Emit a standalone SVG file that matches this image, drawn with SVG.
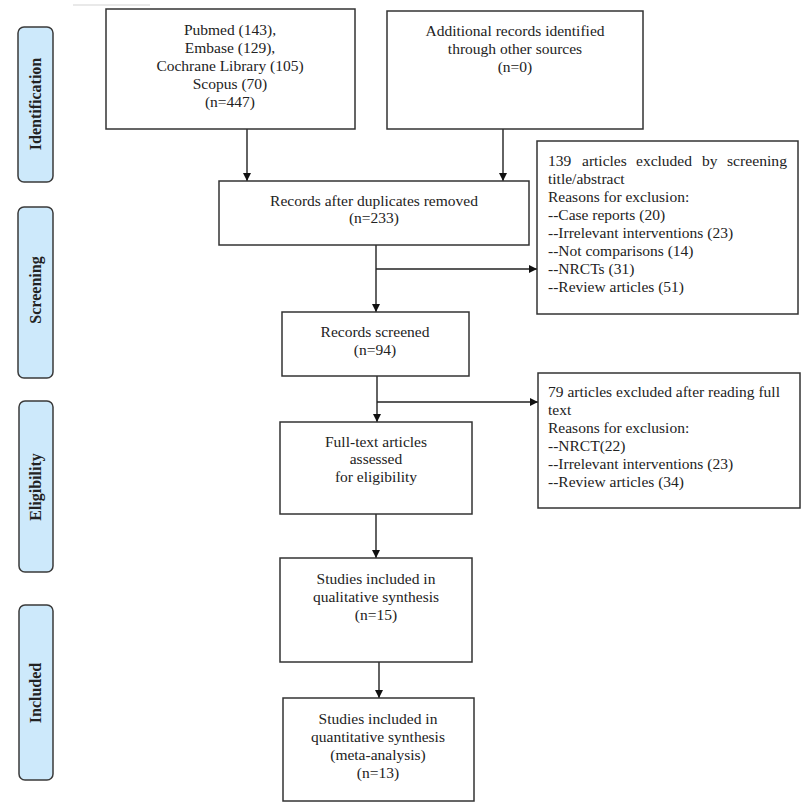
<svg xmlns="http://www.w3.org/2000/svg" width="810" height="810" viewBox="0 0 810 810">
<defs>
<marker id="arr" markerWidth="8" markerHeight="8" refX="8" refY="4" orient="auto" markerUnits="userSpaceOnUse">
<path d="M0,0 L8,4 L0,8 Z" fill="#111"/>
</marker>
<style>
.box{fill:#fff;stroke:#333;stroke-width:1.5}
.pill{fill:#cde9fb;stroke:#3a3a3a;stroke-width:1.5}
.t{font-family:"Liberation Serif","Times New Roman",serif;font-size:15.5px;fill:#222}
.c{text-anchor:middle}
.side{font-family:"Liberation Serif","Times New Roman",serif;font-size:16px;font-weight:bold;fill:#222;text-anchor:middle}
.ln{stroke:#222;stroke-width:1.4;fill:none}
</style>
</defs>
<rect width="810" height="810" fill="#fff"/>
<line x1="73" y1="5" x2="150" y2="5" stroke="#e2e2e2" stroke-width="1.5"/>

<g id="phase-identification"><rect class="pill" x="18" y="27" width="35" height="155" rx="6"/><text class="side" transform="translate(41,104) rotate(-90)">Identification</text></g>
<g id="phase-screening"><rect class="pill" x="18" y="207" width="35" height="171" rx="6"/><text class="side" transform="translate(41,290) rotate(-90)">Screening</text></g>
<g id="phase-eligibility"><rect class="pill" x="19" y="401" width="34" height="171" rx="6"/><text class="side" transform="translate(41,487) rotate(-90)">Eligibility</text></g>
<g id="phase-included"><rect class="pill" x="19" y="605" width="34" height="175" rx="6"/><text class="side" transform="translate(41,693) rotate(-90)">Included</text></g>

<g id="connectors">
<line class="ln" x1="247" y1="129" x2="247" y2="181" marker-end="url(#arr)"/>
<line class="ln" x1="503" y1="129" x2="503" y2="181" marker-end="url(#arr)"/>
<line class="ln" x1="376" y1="245" x2="376" y2="312" marker-end="url(#arr)"/>
<line class="ln" x1="376" y1="269" x2="537" y2="269" marker-end="url(#arr)"/>
<line class="ln" x1="377" y1="376" x2="377" y2="422" marker-end="url(#arr)"/>
<line class="ln" x1="377" y1="402" x2="538" y2="402" marker-end="url(#arr)"/>
<line class="ln" x1="376" y1="514" x2="376" y2="558" marker-end="url(#arr)"/>
<line class="ln" x1="379" y1="662" x2="379" y2="698" marker-end="url(#arr)"/>
</g>

<g id="n-databases"><rect class="box" x="106" y="9" width="249" height="120"/>
<text class="t c" x="230" y="35">Pubmed (143),</text>
<text class="t c" x="230" y="53">Embase (129),</text>
<text class="t c" x="230" y="71">Cochrane Library (105)</text>
<text class="t c" x="230" y="89">Scopus (70)</text>
<text class="t c" x="230" y="107">(n=447)</text></g>

<g id="n-additional"><rect class="box" x="387" y="11" width="256" height="118"/>
<text class="t c" x="515" y="36">Additional records identified</text>
<text class="t c" x="515" y="54">through other sources</text>
<text class="t c" x="515" y="72">(n=0)</text></g>

<g id="n-dedup"><rect class="box" x="219" y="181" width="310" height="64"/>
<text class="t c" x="374" y="206">Records after duplicates removed</text>
<text class="t c" x="374" y="223">(n=233)</text></g>

<g id="n-excl1"><rect class="box" x="537" y="141" width="261" height="173"/>
<text class="t" y="166"><tspan x="548">139</tspan><tspan x="582">articles</tspan><tspan x="636">excluded</tspan><tspan x="702">by</tspan><tspan x="727" textLength="60" lengthAdjust="spacingAndGlyphs">screening</tspan></text>
<text class="t" x="548" y="184">title/abstract</text>
<text class="t" x="548" y="202">Reasons for exclusion:</text>
<text class="t" x="548" y="220">--Case reports (20)</text>
<text class="t" x="548" y="238">--Irrelevant interventions (23)</text>
<text class="t" x="548" y="256">--Not comparisons (14)</text>
<text class="t" x="548" y="274">--NRCTs (31)</text>
<text class="t" x="548" y="292">--Review articles (51)</text></g>

<g id="n-screened"><rect class="box" x="282" y="312" width="187" height="64"/>
<text class="t c" x="375" y="337">Records screened</text>
<text class="t c" x="375" y="355">(n=94)</text></g>

<g id="n-excl2"><rect class="box" x="538" y="373" width="262" height="135"/>
<text class="t" x="548" y="397">79 articles excluded after reading full</text>
<text class="t" x="548" y="415">text</text>
<text class="t" x="548" y="433">Reasons for exclusion:</text>
<text class="t" x="548" y="451">--NRCT(22)</text>
<text class="t" x="548" y="469">--Irrelevant interventions (23)</text>
<text class="t" x="548" y="487">--Review articles (34)</text></g>

<g id="n-fulltext"><rect class="box" x="280" y="422" width="192" height="92"/>
<text class="t c" x="376" y="447">Full-text articles</text>
<text class="t c" x="376" y="464">assessed</text>
<text class="t c" x="376" y="482">for eligibility</text></g>

<g id="n-qualitative"><rect class="box" x="280" y="558" width="192" height="104"/>
<text class="t c" x="376" y="584">Studies included in</text>
<text class="t c" x="376" y="602">qualitative synthesis</text>
<text class="t c" x="376" y="620">(n=15)</text></g>

<g id="n-quantitative"><rect class="box" x="283" y="698" width="191" height="103"/>
<text class="t c" x="378" y="724">Studies included in</text>
<text class="t c" x="378" y="742">quantitative synthesis</text>
<text class="t c" x="378" y="760">(meta-analysis)</text>
<text class="t c" x="378" y="778">(n=13)</text></g>
</svg>
